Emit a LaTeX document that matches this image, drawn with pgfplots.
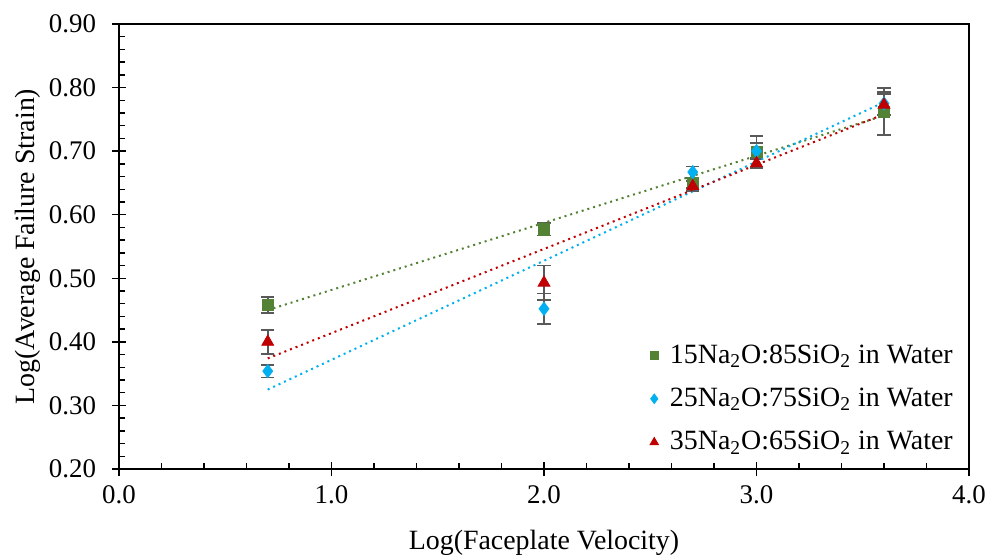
\documentclass[border=0pt]{standalone}
\usepackage{fontspec}
\setmainfont{Liberation Serif}
\usepackage{pgfplots}
\pgfplotsset{compat=1.18}
\usepackage{pgfplotstable}
\definecolor{cgreen}{RGB}{84,130,53}
\definecolor{ccyan}{RGB}{0,176,240}
\definecolor{cred}{RGB}{192,0,0}
\definecolor{cerr}{RGB}{89,89,89}
\pgfplotstableread{
x y e
0.7 0.458 0.013
2.0 0.577 0.010
2.7 0.650 0.008
3.0 0.699 0.025
3.6 0.762 0.037
}\sA
\pgfplotstableread{
x y e
0.7 0.354 0.010
2.0 0.452 0.024
2.7 0.667 0.009
3.0 0.700 0.013
3.6 0.775 0.018
}\sB
\pgfplotstableread{
x y e
0.7 0.400 0.019
2.0 0.493 0.027
2.7 0.645 0.008
3.0 0.681 0.008
3.6 0.773 0.017
}\sC
\pgfplotsset{
  myerr/.style={
    error bars/y dir=both, error bars/y explicit,
    error bars/error bar style={cerr, line width=0.8pt, solid},
    error bars/error mark options={rotate=90, mark size=3.3bp, cerr, line width=0.8pt, solid},
  }
}
\begin{document}
\begin{tikzpicture}
\begin{axis}[
  at={(0,0)}, anchor=south west,
  scale only axis, width=425bp, height=222.5bp,
  xmin=0, xmax=4, ymin=0.2, ymax=0.9,
  xtick={0,1,2,3,4}, ytick={0.2,0.3,0.4,0.5,0.6,0.7,0.8,0.9},
  minor x tick num=4, minor y tick num=4,
  xtick pos=bottom, ytick pos=left,
  tick align=inside,
  major tick length=3.5bp, minor tick length=3bp,
  extra x ticks={0,1,2,3,4}, extra x tick labels={},
  extra y ticks={0.2,0.3,0.4,0.5,0.6,0.7,0.8,0.9}, extra y tick labels={},
  extra x tick style={tick align=outside, major tick length=3.5bp},
  extra y tick style={tick align=outside, major tick length=3.5bp},
  tick style={black, line width=0.7pt},
  axis line style={black, line width=0.7pt},
  xticklabel={\pgfmathparse{\tick}\pgfmathprintnumber[fixed,fixed zerofill,precision=1,assume math mode=true]{\pgfmathresult}},
  yticklabel={\pgfmathparse{\tick}\pgfmathprintnumber[fixed,fixed zerofill,precision=2,assume math mode=true]{\pgfmathresult}},
  ticklabel style={font=\fontsize{13.5}{15}\selectfont},
  xticklabel style={yshift=-5bp},
  yticklabel style={xshift=-8bp},
  label style={font=\fontsize{14}{16}\selectfont},
  xlabel={Log(Faceplate Velocity)},
  ylabel={Log(Average Failure Strain)},
  xlabel style={yshift=-2.5bp},
  ylabel style={yshift=-6bp},
  legend style={draw=none, fill=none, font=\fontsize{14}{16}\selectfont,
    at={(rel axis cs:0.622,0.294)}, anchor=north west,
    row sep=7bp, inner sep=1bp},
  legend cell align=left,
  legend image code/.code={\draw[#1] plot coordinates {(0cm,0cm)}; \path (0.2cm,0cm);},
]
\addplot[only marks, mark=square*, mark size=2.8bp, color=cgreen, myerr,
  legend image post style={mark size=1.9bp}] table[x=x, y=y, y error=e] {\sA};
\addlegendentry{15Na\textsubscript{2}O:85SiO\textsubscript{2} in Water}
\addplot[only marks, mark=diamond*, mark size=3.3bp, color=ccyan, myerr,
  legend image post style={mark size=2.4bp}] table[x=x, y=y, y error=e] {\sB};
\addlegendentry{25Na\textsubscript{2}O:75SiO\textsubscript{2} in Water}
\addplot[only marks, mark=triangle*, mark size=3.4bp, color=cred, myerr,
  legend image post style={mark size=2.4bp}] table[x=x, y=y, y error=e] {\sC};
\addlegendentry{35Na\textsubscript{2}O:65SiO\textsubscript{2} in Water}
\addplot[cgreen, line width=1bp, dotted, forget plot] coordinates {(0.7,0.450) (3.6,0.756)};
\addplot[ccyan, line width=1bp, dotted, forget plot] coordinates {(0.7,0.325) (3.6,0.777)};
\addplot[cred, line width=1bp, dotted, forget plot] coordinates {(0.7,0.374) (3.6,0.758)};
\draw[black, line width=0.7pt] (rel axis cs:0,1) -- (rel axis cs:1,1) -- (rel axis cs:1,0);
\end{axis}
\pgfresetboundingbox
\path[use as bounding box] (-59.5bp,-43.5bp) rectangle (436.5bp,234.5bp);
\end{tikzpicture}
\end{document}
